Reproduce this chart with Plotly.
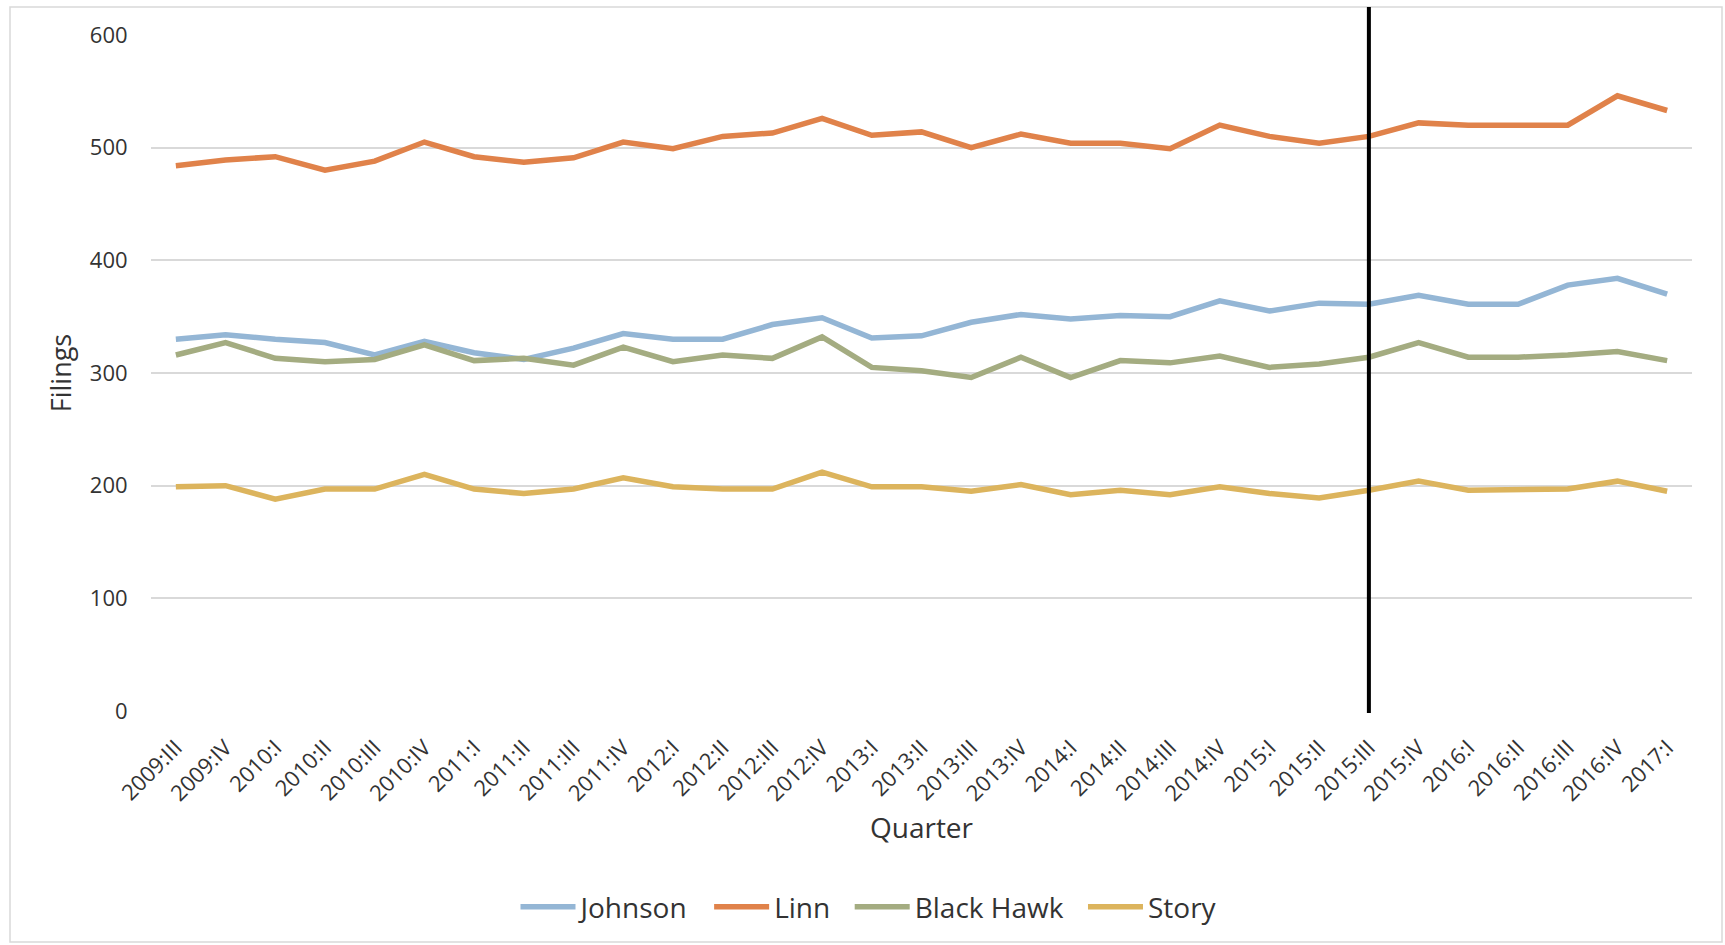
import plotly.graph_objects as go

quarters = ["2009:III", "2009:IV",
            "2010:I", "2010:II", "2010:III", "2010:IV",
            "2011:I", "2011:II", "2011:III", "2011:IV",
            "2012:I", "2012:II", "2012:III", "2012:IV",
            "2013:I", "2013:II", "2013:III", "2013:IV",
            "2014:I", "2014:II", "2014:III", "2014:IV",
            "2015:I", "2015:II", "2015:III", "2015:IV",
            "2016:I", "2016:II", "2016:III", "2016:IV",
            "2017:I"]

johnson = [330, 334, 330, 327, 316, 328, 318, 312, 322, 335, 330, 330, 343, 349, 331, 333,
           345, 352, 348, 351, 350, 364, 355, 362, 361, 369, 361, 361, 378, 384, 370]
linn = [484, 489, 492, 480, 488, 505, 492, 487, 491, 505, 499, 510, 513, 526, 511, 514,
        500, 512, 504, 504, 499, 520, 510, 504, 510, 522, 520, 520, 520, 546, 533]
black_hawk = [316, 327, 313, 310, 312, 325, 311, 313, 307, 323, 310, 316, 313, 332, 305, 302,
              296, 314, 296, 311, 309, 315, 305, 308, 314, 327, 314, 314, 316, 319, 311]
story = [199, 200, 188, 197, 197, 210, 197, 193, 197, 207, 199, 197, 197, 212, 199, 199,
         195, 201, 192, 196, 192, 199, 193, 189, 196, 204, 196, 196, 197, 204, 195]

series_names = ["Johnson", "Linn", "Black Hawk", "Story"]
series_values = [johnson, linn, black_hawk, story]
series_colors = ["#94B6D5", "#E0824A", "#A4AC81", "#DCB45D"]

y_ticks = [0, 100, 200, 300, 400, 500, 600]
marker_quarter = "2015:III"

W, H = 1725, 945
L, R, T, B = 151, 33, 35, 234
pw, ph = W - L - R, H - T - B


def px_x(p):
    return (p - L) / pw


def px_y(p):
    return (H - B - p) / ph


fig = go.Figure()
n = len(series_names)
for i, (name, vals, col) in enumerate(zip(series_names, series_values, series_colors)):
    label = name + ("\u00a0\u00a0" if i < n - 1 else "")
    fig.add_trace(go.Scatter(x=quarters, y=vals, name=label, mode="lines",
                             line=dict(color=col, width=5.5)))

font_family = "Open Sans"
txt = "#333333"

fig.update_layout(
    width=W, height=H,
    margin=dict(l=L, r=R, t=T, b=B, autoexpand=False),
    paper_bgcolor="white", plot_bgcolor="white",
    font=dict(family=font_family, color=txt, size=22),
    showlegend=True,
    legend=dict(orientation="h", x=px_x(869), xanchor="center",
                y=px_y(907), yanchor="middle",
                font=dict(size=28, color=txt), itemwidth=55,
                traceorder="normal"),
    xaxis=dict(type="category", tickangle=-45, showgrid=False, zeroline=False,
               showline=False, ticks="outside", ticklen=14, tickcolor="rgba(0,0,0,0)",
               tickfont=dict(size=22, color=txt),
               title=dict(text="Quarter", font=dict(size=28, color=txt), standoff=12),
               range=[-0.5, len(quarters) - 0.5]),
    yaxis=dict(range=[0, 600], tickvals=y_ticks, showgrid=True, gridcolor="#D9D9D9",
               gridwidth=1.5, zeroline=False, showline=False,
               ticks="outside", ticklen=18, tickcolor="rgba(0,0,0,0)",
               tickfont=dict(size=22, color=txt),
               title=dict(text="Filings", font=dict(size=27, color=txt), standoff=10)),
)

# vertical reference line
fig.add_shape(type="line", xref="x", yref="paper", x0=marker_quarter, x1=marker_quarter,
              y0=-0.003, y1=px_y(7), line=dict(color="black", width=4), layer="above")
# chart border
fig.add_shape(type="rect", xref="paper", yref="paper",
              x0=px_x(10), x1=px_x(1722), y0=px_y(942), y1=px_y(7),
              line=dict(color="#D9D9D9", width=1.5), fillcolor="rgba(0,0,0,0)", layer="below")

fig.write_html("out.html")
